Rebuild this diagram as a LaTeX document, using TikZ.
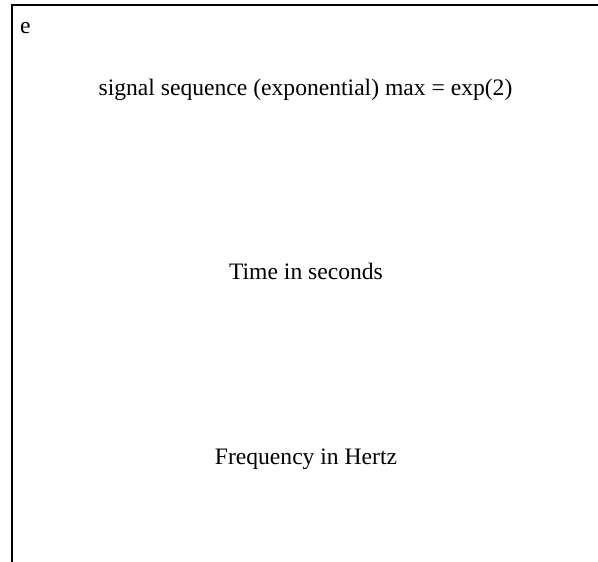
\documentclass[tikz,border=0pt]{standalone}
\usepackage{fontspec}
\setmainfont{Liberation Serif}
\begin{document}
\begin{tikzpicture}[x=1pt,y=-1pt,
  lbl/.style={inner sep=0pt,anchor=base,font=\fontsize{23.6}{28}\selectfont}]
\useasboundingbox (0,0) rectangle (598,562);
% frame edges
\draw[line width=2pt] (12,562) -- (12,5) -- (598,5);
\node[lbl,anchor=base west] (e) at (20,33) {e};
\node[lbl] (title) at (305.5,95) {signal sequence (exponential) max = exp(2)};
\node[lbl] (time) at (306,279) {Time in seconds};
\node[lbl] (freq) at (306,464) {Frequency in Hertz};
\end{tikzpicture}
\end{document}
